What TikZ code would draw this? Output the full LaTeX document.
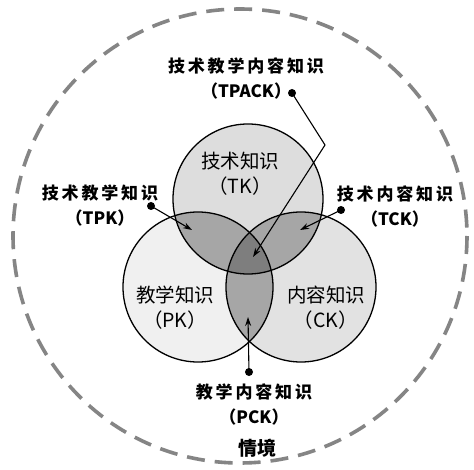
\documentclass[tikz,border=0pt]{standalone}
\usepackage{fontspec}
\newfontfamily\cjk{Noto Sans CJK SC}
\usetikzlibrary{arrows.meta}
\definecolor{tkc}{HTML}{DDDDDD}
\definecolor{pkc}{HTML}{F0F0F0}
\definecolor{ckc}{HTML}{E2E2E2}
\definecolor{pairc}{HTML}{A6A6A6}
\definecolor{triplec}{HTML}{7E7E7E}
\definecolor{ringc}{HTML}{858585}
\tikzset{
  circlab/.style={font=\cjk\fontsize{19.5}{25}\selectfont, align=center, inner sep=0pt},
  outlab/.style={font=\cjk\bfseries\fontsize{17}{25}\selectfont, align=center, inner sep=0pt},
  dot/.style={circle, fill=black, inner sep=0pt, minimum size=8pt},
  pointer/.style={line width=1.1pt, -{Stealth[length=9pt,width=6pt]}},
}
\begin{document}
\begin{tikzpicture}[x=1pt,y=-1pt]
\useasboundingbox (0,0) rectangle (474,470);
\fill[white] (0,0) rectangle (474,470);
% outer context ring
\coordinate (ctx) at (240,236);
\draw[ringc, line width=3.6pt, dash pattern=on 18pt off 10pt] (ctx) circle[radius=227];
% circle centres
\coordinate (T) at (248,199);
\coordinate (P) at (198,287);
\coordinate (C) at (301,287);
\def\R{75}
\fill[tkc] (T) circle[radius=\R];
\fill[pkc] (P) circle[radius=\R];
\fill[ckc] (C) circle[radius=\R];
\begin{scope}
  \clip (T) circle[radius=\R];
  \fill[pairc] (P) circle[radius=\R];
  \fill[pairc] (C) circle[radius=\R];
\end{scope}
\begin{scope}
  \clip (P) circle[radius=\R];
  \fill[pairc] (C) circle[radius=\R];
\end{scope}
\begin{scope}
  \clip (T) circle[radius=\R];
  \clip (P) circle[radius=\R];
  \fill[triplec] (C) circle[radius=\R];
\end{scope}
\draw[line width=1.3pt] (T) circle[radius=\R];
\draw[line width=1.3pt] (P) circle[radius=\R];
\draw[line width=1.3pt] (C) circle[radius=\R];
% circle labels
\node[circlab] (tk) at (240,174) {技术知识\\（TK）};
\node[circlab] (pk) at (175,308) {教学知识\\（PK）};
\node[circlab] (ck) at (326,308) {内容知识\\（CK）};
% outer labels
\node[outlab] (tpack) at (246,78) {技\,术\,教\,学\,内\,容\,知\,识\\（TPACK）};
\node[outlab] (tpk) at (100,206) {技\,术\,教\,学\,知\,识\\（TPK）};
\node[outlab] (tck) at (395,206) {技\,术\,内\,容\,知\,识\\（TCK）};
\node[outlab] (pck) at (254,404) {教\,学\,内\,容\,知\,识\\（PCK）};
\node[font=\cjk\bfseries\fontsize{19}{22}\selectfont, inner sep=0pt] (ctxlab) at (257,448) {情境};
% pointers
\node[dot] (dtpack) at (292,93) {};
\node[dot] (dtpk) at (151,206) {};
\node[dot] (dtck) at (341,210) {};
\node[dot] (dpck) at (249,372) {};
\coordinate (bend) at (325,145);
\coordinate (atpack) at (253,257);
\coordinate (atpk) at (192,230);
\coordinate (atck) at (300,230);
\coordinate (apck) at (248,317);
\draw[pointer] (dtpack.center) -- (bend) -- (atpack);
\draw[pointer] (dtpk.center) -- (atpk);
\draw[pointer] (dtck.center) -- (atck);
\draw[pointer] (dpck.center) -- (apck);
\end{tikzpicture}
\end{document}
